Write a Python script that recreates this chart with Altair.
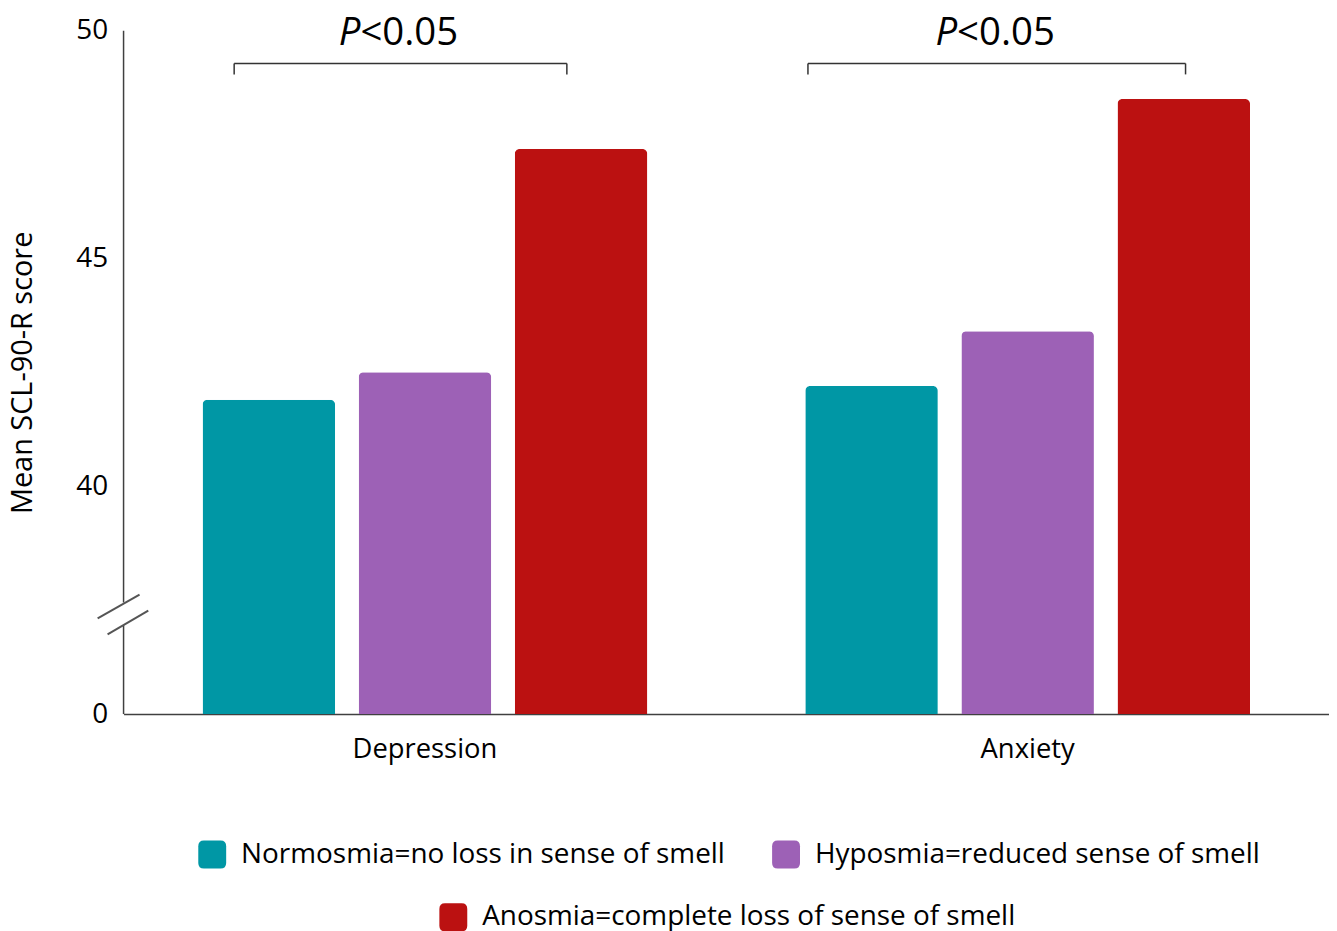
import altair as alt
import pandas as pd

# ---- data ----
categories = ["Depression", "Anxiety"]
groups = [
    "Normosmia=no loss in sense of smell",
    "Hyposmia=reduced sense of smell",
    "Anosmia=complete loss of sense of smell",
]
colors = ["#0097a5", "#9d61b6", "#bb1111"]
normosmia = [41.9, 42.2]
hyposmia = [42.5, 43.4]
anosmia = [47.4, 48.5]

# y axis: broken scale, display units = score - 35 (0 shown as the baseline)
tick_values = [0, 5, 10, 15]
tick_labels = ["0", "40", "45", "50"]

# annotation layer: x in group units (0..2), y in display units
bracket_x1 = [0.1835, 1.1355]
bracket_x2 = [0.7355, 1.762]
bracket_y = [14.28, 14.28]
bracket_tick_y = [14.04, 14.04]
ptext_x = [0.393, 1.383]
ptext_y = [14.69, 14.69]
axis_seg_y1 = [0, 2.45]
axis_seg_y2 = [1.95, 15]
break_x1 = [-0.043, -0.0265]
break_x2 = [0.0265, 0.041]
break_y1 = [2.10, 1.75]
break_y2 = [2.62, 2.27]

FONT = "Open Sans"
W, H = 1210, 686

rows = []
for i, c in enumerate(categories):
    for g, vals in zip(groups, [normosmia, hyposmia, anosmia]):
        rows.append({"category": c, "group": g, "score": vals[i]})
df = pd.DataFrame(rows)

segs = []
for i in range(len(bracket_x1)):
    segs.append({"x": bracket_x1[i], "x2": bracket_x2[i], "y": bracket_y[i], "y2": bracket_y[i], "w": 1.5, "c": "#333333"})
    segs.append({"x": bracket_x1[i], "x2": bracket_x1[i], "y": bracket_y[i], "y2": bracket_tick_y[i], "w": 1.5, "c": "#333333"})
    segs.append({"x": bracket_x2[i], "x2": bracket_x2[i], "y": bracket_y[i], "y2": bracket_tick_y[i], "w": 1.5, "c": "#333333"})
for a, b in zip(axis_seg_y1, axis_seg_y2):
    segs.append({"x": 0, "x2": 0, "y": a, "y2": b, "w": 1.5, "c": "#404040"})
for i in range(len(break_x1)):
    segs.append({"x": break_x1[i], "x2": break_x2[i], "y": break_y1[i], "y2": break_y2[i], "w": 2, "c": "#555555"})
seg_df = pd.DataFrame(segs)

ptext_df = pd.DataFrame({"x": ptext_x, "y": ptext_y})

label_expr = "datum.value == 0 ? '0' : datum.value == 5 ? '40' : datum.value == 10 ? '45' : '50'"

yaxis = alt.Axis(
    title="Mean SCL-90-R score",
    values=tick_values,
    labelExpr=label_expr,
    ticks=False,
    domain=False,
    grid=False,
    labelFont=FONT,
    labelFontSize=28,
    labelColor="#000000",
    labelPadding=16,
    titleFont=FONT,
    titleFontSize=29,
    titleFontWeight="normal",
    titleColor="#000000",
    titlePadding=38,
)
yscale = alt.Scale(domain=[0, 15], nice=False)
xq = alt.Scale(domain=[0, 2], nice=False, zero=False)

rounded = "M-1,-0.6 Q-1,-1 -0.6,-1 L0.6,-1 Q1,-1 1,-0.6 L1,0.6 Q1,1 0.6,1 L-0.6,1 Q-1,1 -1,0.6 Z"

bars = alt.Chart(df).transform_calculate(
    disp="datum.score - 35"
).mark_bar(cornerRadiusTopLeft=5, cornerRadiusTopRight=5).encode(
    x=alt.X(
        "category:N",
        sort=categories,
        scale=alt.Scale(paddingInner=0, paddingOuter=0),
        axis=alt.Axis(
            title=None,
            labelAngle=0,
            ticks=False,
            labelFont=FONT,
            labelFontSize=27.5,
            labelColor="#000000",
            labelPadding=22,
            domainColor="#404040",
            domainWidth=1.5,
        ),
    ),
    xOffset=alt.XOffset("group:N", sort=groups, scale=alt.Scale(paddingInner=0.151, paddingOuter=0.506)),
    y=alt.Y("disp:Q", scale=yscale, axis=yaxis),
    color=alt.Color("group:N", scale=alt.Scale(domain=groups, range=colors), legend=None),
)

lines = alt.Chart(seg_df).mark_rule().encode(
    x=alt.X("x:Q", scale=xq, axis=None),
    x2="x2:Q",
    y=alt.Y("y:Q", scale=yscale, axis=yaxis),
    y2="y2:Q",
    strokeWidth=alt.StrokeWidth("w:Q", scale=None),
    color=alt.Color("c:N", scale=None),
)

ptxt_p = alt.Chart(ptext_df).mark_text(
    text="P", font=FONT, fontSize=38.5, fontStyle="italic", align="right", baseline="alphabetic", color="#000000"
).encode(
    x=alt.X("x:Q", scale=xq, axis=None),
    y=alt.Y("y:Q", scale=yscale, axis=yaxis),
)
ptxt_rest = alt.Chart(ptext_df).mark_text(
    text="<0.05", font=FONT, fontSize=38.5, align="left", baseline="alphabetic", color="#000000"
).encode(
    x=alt.X("x:Q", scale=xq, axis=None),
    y=alt.Y("y:Q", scale=yscale, axis=yaxis),
)


def legend_layer(sub_groups, sub_colors, lx, ly):
    sub = df[df["group"].isin(sub_groups)]
    return alt.Chart(sub).mark_square(opacity=0).encode(
        color=alt.Color(
            "group:N",
            scale=alt.Scale(domain=sub_groups, range=sub_colors),
            legend=alt.Legend(
                title=None,
                orient="none",
                legendX=lx,
                legendY=ly,
                direction="horizontal",
                symbolType=rounded,
                symbolSize=784,
                symbolOpacity=1,
                symbolStrokeWidth=0,
                labelFont=FONT,
                labelFontSize=28,
                labelColor="#000000",
                labelOffset=15,
                labelLimit=800,
                columnPadding=47,
                padding=0,
            ),
        )
    )


leg1 = legend_layer(groups[:2], colors[:2], 75, 813)
leg2 = legend_layer(groups[2:], colors[2:], 317, 876)

chart = alt.layer(bars, lines, ptxt_p, ptxt_rest, leg1, leg2).resolve_scale(
    x="independent", color="independent"
).properties(
    width=W, height=H, padding={"left": 0, "top": 4, "right": 0, "bottom": 0}
).configure_view(stroke=None)

chart.save("out.html", embed_options={"renderer": "svg", "actions": False})
